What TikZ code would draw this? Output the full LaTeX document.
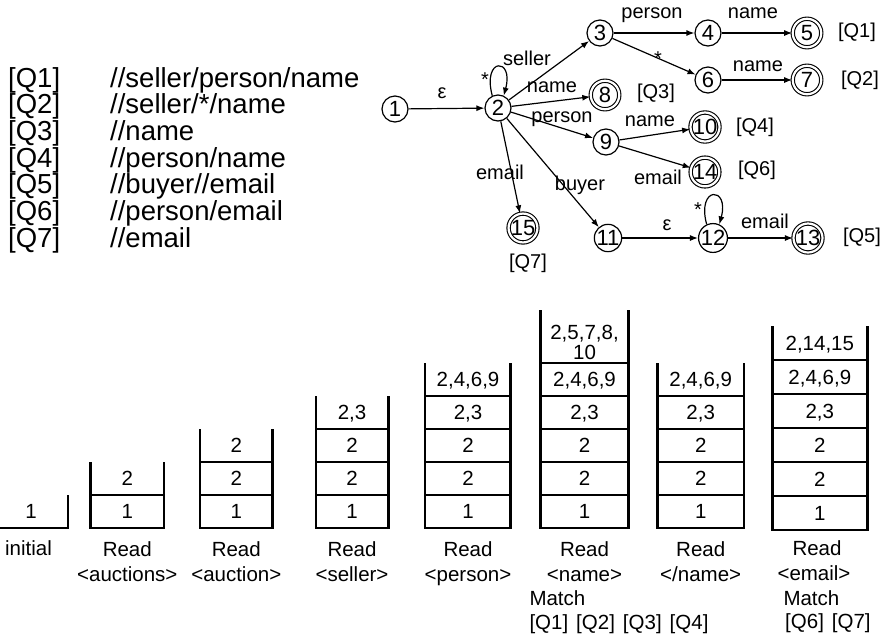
\documentclass[tikz,border=0pt]{standalone}
\usepackage{fontspec}
\setmainfont{Liberation Sans}
\usetikzlibrary{arrows.meta}
\begin{document}
\begin{tikzpicture}[x=1pt,y=1pt,
  st/.style={circle,draw,line width=1.2pt,minimum size=26pt,inner sep=0pt,font=\fontsize{22}{22}\selectfont},
  acc/.style={circle,draw,double,line width=1.1pt,double distance=2.2pt,minimum size=28.5pt,inner sep=0pt,font=\fontsize{22}{22}\selectfont},
  edge/.style={line width=1.2pt,-{Latex[length=8pt,width=6pt]}},
  lbl/.style={inner sep=0pt,font=\fontsize{20}{20}\selectfont},
  ql/.style={inner sep=0pt,anchor=base west,font=\fontsize{27.5}{27.5}\selectfont},
  wall/.style={line width=2.6pt,line cap=butt,line join=miter},
  cellline/.style={line width=1.6pt},
  ctext/.style={inner sep=0pt,anchor=base,font=\fontsize{20.5}{22}\selectfont},
  captxt/.style={inner sep=0pt,anchor=base,font=\fontsize{20.5}{20.5}\selectfont},
  capl/.style={inner sep=0pt,anchor=base west,font=\fontsize{20.5}{20.5}\selectfont},
]
\useasboundingbox (0,0) rectangle (886,-638);

% ---------------- query list
\node[ql] (q1) at (8,-87) {[Q1]};    \node[ql] (t1) at (110,-87) {//seller/person/name};
\node[ql] (q2) at (8,-113.6) {[Q2]}; \node[ql] (t2) at (110,-113.6) {//seller/*/name};
\node[ql] (q3) at (8,-140.3) {[Q3]}; \node[ql] (t3) at (110,-140.3) {//name};
\node[ql] (q4) at (8,-167) {[Q4]};   \node[ql] (t4) at (110,-167) {//person/name};
\node[ql] (q5) at (8,-193.6) {[Q5]}; \node[ql] (t5) at (110,-193.6) {//buyer//email};
\node[ql] (q6) at (8,-220.3) {[Q6]}; \node[ql] (t6) at (110,-220.3) {//person/email};
\node[ql] (q7) at (8,-247) {[Q7]};   \node[ql] (t7) at (110,-247) {//email};

% ---------------- automaton
\node[st]  (n1)  at (395,-109) {1};
\node[st]  (n2)  at (498,-108) {2};
\node[st]  (n3)  at (600,-33)  {3};
\node[st]  (n4)  at (708,-33)  {4};
\node[acc] (n5)  at (807,-33)  {5};
\node[st]  (n6)  at (708,-80)  {6};
\node[acc] (n7)  at (807,-80)  {7};
\node[acc] (n8)  at (605,-95)  {8};
\node[st]  (n9)  at (606,-142) {9};
\node[acc] (n10) at (705,-127) {10};
\node[acc] (n14) at (705,-172) {14};
\node[acc] (n15) at (523,-228) {15};
\node[st]  (n11) at (608,-238) {11};
\node[st]  (n12) at (713,-238) {12};
\node[acc] (n13) at (808,-238) {13};

\draw[edge] (n1) -- (n2);
\draw[edge] (n2.115) .. controls +(105:40) and +(75:40) .. (n2.65);
\draw[edge] (n2) -- (n3);
\draw[edge] (n2) -- (n8);
\draw[edge] (n2) -- (n9);
\draw[edge] (n2) -- (n15);
\draw[edge] (n2) -- (n11);
\draw[edge] (n3) -- (n4);
\draw[edge] (n3) -- (n6);
\draw[edge] (n4) -- (n5);
\draw[edge] (n6) -- (n7);
\draw[edge] (n9) -- (n10);
\draw[edge] (n9) -- (n14);
\draw[edge] (n11) -- (n12);
\draw[edge] (n12.115) .. controls +(105:40) and +(75:40) .. (n12.65);
\draw[edge] (n12) -- (n13);

% edge labels
\node[lbl] (l12)   at (442,-93)  {ε};
\node[lbl] (l22)   at (485,-79.5) {*};
\node[lbl] (l23)   at (527,-58)  {seller};
\node[lbl] (l28)   at (552,-87)  {name};
\node[lbl] (l29)   at (562,-119) {person};
\node[lbl] (l215)  at (500,-172) {email};
\node[lbl] (l211)  at (580,-185) {buyer};
\node[lbl] (l34)   at (652,-15)  {person};
\node[lbl] (l36)   at (658,-58.5) {*};
\node[lbl] (l45)   at (753,-13)  {name};
\node[lbl] (l67)   at (758,-66)  {name};
\node[lbl] (l910)  at (650,-121) {name};
\node[lbl] (l914)  at (658,-177) {email};
\node[lbl] (l1112) at (667,-225) {ε};
\node[lbl] (l1212) at (698,-210) {*};
\node[lbl] (l1213) at (765,-221) {email};

% accepting labels
\node[lbl] (a5)  at (857,-32)  {[Q1]};
\node[lbl] (a7)  at (860,-80)  {[Q2]};
\node[lbl] (a8)  at (656,-93)  {[Q3]};
\node[lbl] (a10) at (755,-127) {[Q4]};
\node[lbl] (a14) at (757,-170) {[Q6]};
\node[lbl] (a13) at (862,-237) {[Q5]};
\node[lbl] (a15) at (528,-263) {[Q7]};

% ---------------- stacks
% S1 initial
\draw[wall] (0,-528) -- (68,-528) -- (68,-495);
\node[ctext] (s1a) at (31,-518.8) {1};
\node[captxt] (c1) at (28.5,-555) {initial};

% S2
\draw[wall] (90.7,-462) -- (90.7,-528) -- (164,-528) -- (164,-462);
\draw[cellline] (90.7,-495) -- (164,-495);
\node[ctext] (s2a) at (127.3,-518.8) {1};
\node[ctext] (s2b) at (127.3,-485.8) {2};
\node[captxt] (c2a) at (127.3,-556.5) {Read};
\node[captxt] (c2b) at (127.3,-581) {<auctions>};

% S3
\draw[wall] (200,-429) -- (200,-528) -- (272.7,-528) -- (272.7,-429);
\draw[cellline] (200,-495) -- (272.7,-495);
\draw[cellline] (200,-462) -- (272.7,-462);
\node[ctext] (s3a) at (236.3,-518.8) {1};
\node[ctext] (s3b) at (236.3,-485.8) {2};
\node[ctext] (s3c) at (236.3,-452.8) {2};
\node[captxt] (c3a) at (236.3,-556.5) {Read};
\node[captxt] (c3b) at (236.3,-581) {<auction>};

% S4
\draw[wall] (316,-396) -- (316,-528) -- (388.3,-528) -- (388.3,-396);
\foreach \yy in {-495,-462,-429} \draw[cellline] (316,\yy) -- (388.3,\yy);
\node[ctext] (s4a) at (352,-518.8) {1};
\node[ctext] (s4b) at (352,-485.8) {2};
\node[ctext] (s4c) at (352,-452.8) {2};
\node[ctext] (s4d) at (352,-419.8) {2,3};
\node[captxt] (c4a) at (352,-556.5) {Read};
\node[captxt] (c4b) at (352,-581) {<seller>};

% S5
\draw[wall] (425,-363) -- (425,-528) -- (510.7,-528) -- (510.7,-363);
\foreach \yy in {-495,-462,-429,-396} \draw[cellline] (425,\yy) -- (510.7,\yy);
\node[ctext] (s5a) at (468,-518.8) {1};
\node[ctext] (s5b) at (468,-485.8) {2};
\node[ctext] (s5c) at (468,-452.8) {2};
\node[ctext] (s5d) at (468,-419.8) {2,3};
\node[ctext] (s5e) at (468,-386.8) {2,4,6,9};
\node[captxt] (c5a) at (468,-556.5) {Read};
\node[captxt] (c5b) at (468,-581) {<person>};

% S6
\draw[wall] (540.7,-310) -- (540.7,-528) -- (628.3,-528) -- (628.3,-310);
\foreach \yy in {-495,-462,-429,-396,-363} \draw[cellline] (540.7,\yy) -- (628.3,\yy);
\node[ctext] (s6a) at (584.5,-518.8) {1};
\node[ctext] (s6b) at (584.5,-485.8) {2};
\node[ctext] (s6c) at (584.5,-452.8) {2};
\node[ctext] (s6d) at (584.5,-419.8) {2,3};
\node[ctext] (s6e) at (584.5,-386.8) {2,4,6,9};
\node[ctext] (s6f) at (584.5,-339) {2,5,7,8,};
\node[ctext] (s6g) at (584.5,-359) {10};
\node[captxt] (c6a) at (584.5,-556.5) {Read};
\node[captxt] (c6b) at (584.5,-581) {<name>};
\node[capl] (c6c) at (529.3,-605.5) {Match};
\node[capl] (c6d) at (529.3,-629) {[Q1]\kern8pt[Q2]\kern8pt[Q3]\kern8pt[Q4]};

% S7
\draw[wall] (657.3,-363) -- (657.3,-528) -- (744,-528) -- (744,-363);
\foreach \yy in {-495,-462,-429,-396} \draw[cellline] (657.3,\yy) -- (744,\yy);
\node[ctext] (s7a) at (700.7,-518.8) {1};
\node[ctext] (s7b) at (700.7,-485.8) {2};
\node[ctext] (s7c) at (700.7,-452.8) {2};
\node[ctext] (s7d) at (700.7,-419.8) {2,3};
\node[ctext] (s7e) at (700.7,-386.8) {2,4,6,9};
\node[captxt] (c7a) at (700.7,-556.5) {Read};
\node[captxt] (c7b) at (700.7,-581) {</name>};

% S8
\draw[wall] (772.3,-326) -- (772.3,-530) -- (867.3,-530) -- (867.3,-326);
\foreach \yy in {-496,-462,-428,-394,-360} \draw[cellline] (772.3,\yy) -- (867.3,\yy);
\node[ctext] (s8a) at (819.8,-520.3) {1};
\node[ctext] (s8b) at (819.8,-486.3) {2};
\node[ctext] (s8c) at (819.8,-452.3) {2};
\node[ctext] (s8d) at (819.8,-418.3) {2,3};
\node[ctext] (s8e) at (819.8,-384.3) {2,4,6,9};
\node[ctext] (s8f) at (819.8,-350.3) {2,14,15};
\node[captxt] (c8a) at (817,-555) {Read};
\node[captxt] (c8b) at (814,-580) {<email>};
\node[capl] (c8c) at (783.3,-605) {Match};
\node[capl] (c8d) at (785,-628) {[Q6]\kern8pt[Q7]};
\end{tikzpicture}
\end{document}
